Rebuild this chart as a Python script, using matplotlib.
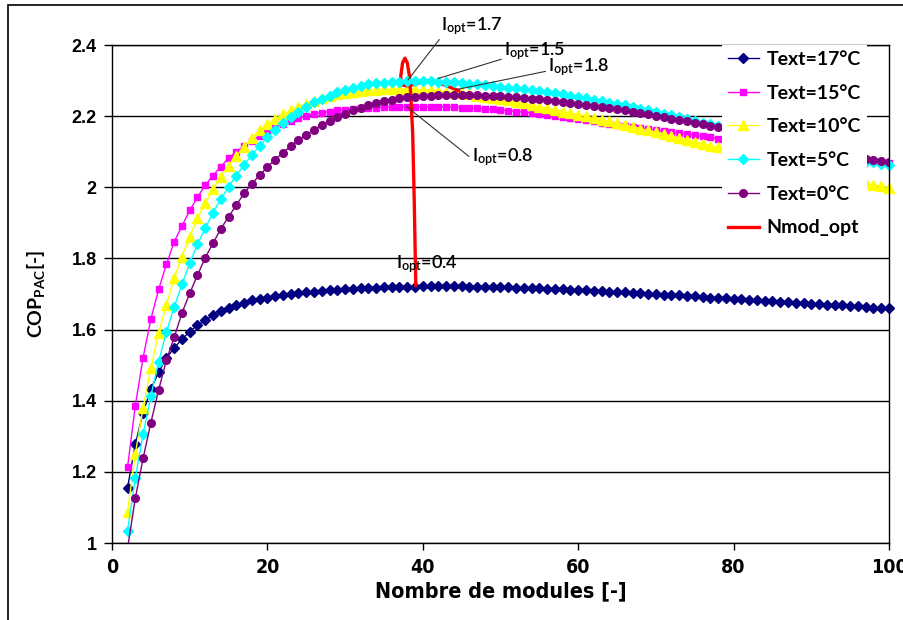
import matplotlib.pyplot as plt
from matplotlib.patches import Rectangle
from matplotlib.ticker import FormatStrFormatter

plt.rcParams['mathtext.fontset'] = 'custom'
plt.rcParams['mathtext.rm'] = 'Lato'
plt.rcParams['mathtext.bf'] = 'Lato:bold'
plt.rcParams['mathtext.it'] = 'Lato:italic'
plt.rcParams['mathtext.sf'] = 'Lato:semibold'

# number of modules (x axis)
n_modules = list(range(2, 101))

# COP_PAC, one value per module count (2..100)
cop_17 = [1.155, 1.278, 1.366, 1.433, 1.480, 1.520, 1.548, 1.573, 1.594, 1.613,
          1.626, 1.641, 1.652, 1.662, 1.670, 1.676, 1.682, 1.686, 1.690, 1.694,
          1.697, 1.700, 1.703, 1.705, 1.707, 1.709, 1.711, 1.712, 1.714, 1.715,
          1.716, 1.717, 1.718, 1.719, 1.720, 1.720, 1.721, 1.721, 1.722, 1.722,
          1.722, 1.722, 1.722, 1.722, 1.721, 1.721, 1.721, 1.720, 1.720, 1.719,
          1.718, 1.718, 1.717, 1.716, 1.715, 1.714, 1.713, 1.712, 1.711, 1.710,
          1.709, 1.708, 1.707, 1.706, 1.705, 1.703, 1.702, 1.701, 1.700, 1.698,
          1.697, 1.696, 1.694, 1.693, 1.692, 1.690, 1.689, 1.688, 1.686, 1.685,
          1.684, 1.682, 1.681, 1.680, 1.678, 1.677, 1.676, 1.674, 1.673, 1.672,
          1.670, 1.669, 1.668, 1.666, 1.665, 1.664, 1.662, 1.661, 1.660]

cop_15 = [1.213, 1.386, 1.521, 1.629, 1.713, 1.783, 1.847, 1.891, 1.935, 1.972,
          2.006, 2.033, 2.058, 2.082, 2.100, 2.116, 2.131, 2.145, 2.157, 2.168,
          2.178, 2.187, 2.195, 2.201, 2.206, 2.210, 2.213, 2.216, 2.218, 2.220,
          2.222, 2.223, 2.224, 2.225, 2.226, 2.226, 2.227, 2.227, 2.227, 2.227,
          2.226, 2.226, 2.225, 2.224, 2.223, 2.222, 2.220, 2.219, 2.217, 2.215,
          2.213, 2.211, 2.209, 2.206, 2.203, 2.200, 2.197, 2.194, 2.191, 2.188,
          2.185, 2.182, 2.179, 2.176, 2.173, 2.170, 2.167, 2.164, 2.161, 2.158,
          2.155, 2.152, 2.149, 2.146, 2.143, 2.140, 2.137, 2.134, 2.131, 2.127,
          2.124, 2.121, 2.117, 2.114, 2.110, 2.107, 2.103, 2.100, 2.096, 2.093,
          2.089, 2.086, 2.083, 2.080, 2.078, 2.076, 2.074, 2.071, 2.068]

cop_10 = [1.088, 1.250, 1.380, 1.491, 1.591, 1.669, 1.744, 1.805, 1.861, 1.913,
          1.955, 1.994, 2.030, 2.060, 2.088, 2.114, 2.138, 2.160, 2.177, 2.192,
          2.205, 2.216, 2.226, 2.235, 2.243, 2.250, 2.256, 2.261, 2.265, 2.268,
          2.271, 2.273, 2.274, 2.275, 2.276, 2.276, 2.276, 2.275, 2.274, 2.273,
          2.271, 2.269, 2.267, 2.264, 2.261, 2.258, 2.255, 2.251, 2.248, 2.244,
          2.240, 2.236, 2.231, 2.227, 2.222, 2.218, 2.213, 2.209, 2.204, 2.200,
          2.195, 2.190, 2.185, 2.180, 2.175, 2.170, 2.165, 2.160, 2.155, 2.150,
          2.144, 2.139, 2.134, 2.128, 2.123, 2.117, 2.112, 2.107, 2.101, 2.096,
          2.090, 2.085, 2.079, 2.074, 2.068, 2.063, 2.057, 2.052, 2.046, 2.041,
          2.035, 2.030, 2.024, 2.019, 2.015, 2.011, 2.007, 2.003, 1.999]

cop_5 = [1.034, 1.182, 1.306, 1.413, 1.510, 1.592, 1.664, 1.727, 1.786, 1.840,
         1.885, 1.929, 1.966, 2.002, 2.033, 2.063, 2.091, 2.116, 2.140, 2.161,
         2.180, 2.197, 2.213, 2.227, 2.239, 2.249, 2.258, 2.267, 2.274, 2.280,
         2.285, 2.289, 2.292, 2.294, 2.296, 2.297, 2.298, 2.298, 2.298, 2.298,
         2.297, 2.296, 2.295, 2.293, 2.291, 2.289, 2.287, 2.285, 2.283, 2.280,
         2.278, 2.275, 2.273, 2.270, 2.267, 2.264, 2.261, 2.258, 2.254, 2.250,
         2.246, 2.242, 2.238, 2.234, 2.230, 2.225, 2.221, 2.216, 2.212, 2.207,
         2.202, 2.197, 2.192, 2.187, 2.182, 2.177, 2.172, 2.167, 2.162, 2.156,
         2.151, 2.145, 2.140, 2.134, 2.129, 2.123, 2.117, 2.112, 2.106, 2.100,
         2.095, 2.089, 2.083, 2.078, 2.074, 2.072, 2.070, 2.066, 2.062]

cop_0 = [0.985, 1.126, 1.238, 1.338, 1.430, 1.514, 1.578, 1.646, 1.702, 1.753,
         1.802, 1.843, 1.883, 1.917, 1.950, 1.983, 2.010, 2.034, 2.057, 2.078,
         2.097, 2.116, 2.133, 2.148, 2.162, 2.175, 2.187, 2.198, 2.207, 2.216,
         2.224, 2.231, 2.237, 2.242, 2.246, 2.250, 2.253, 2.255, 2.257, 2.258,
         2.259, 2.260, 2.260, 2.260, 2.260, 2.259, 2.258, 2.257, 2.256, 2.254,
         2.253, 2.251, 2.249, 2.247, 2.245, 2.243, 2.240, 2.238, 2.235, 2.232,
         2.229, 2.226, 2.223, 2.219, 2.216, 2.212, 2.208, 2.205, 2.201, 2.197,
         2.193, 2.189, 2.185, 2.181, 2.177, 2.173, 2.169, 2.165, 2.160, 2.156,
         2.151, 2.147, 2.142, 2.138, 2.133, 2.128, 2.123, 2.118, 2.113, 2.108,
         2.103, 2.098, 2.093, 2.088, 2.084, 2.080, 2.078, 2.075, 2.072]

# optimal number of modules curve (smoothed line as drawn)
nmod_x = [39.1, 38.9, 38.7, 38.5, 38.3, 38.0, 37.7, 37.4, 37.15, 37.3, 38.0, 39.0, 40.5, 42.5, 44.6]
nmod_y = [1.725, 1.96, 2.15, 2.24, 2.31, 2.35, 2.363, 2.35, 2.31, 2.288, 2.285, 2.29, 2.30, 2.29, 2.272]

y_ticks = [1, 1.2, 1.4, 1.6, 1.8, 2, 2.2, 2.4]
x_ticks = [0, 20, 40, 60, 80, 100]

narrow = dict(family=['Liberation Sans Narrow', 'DejaVu Sans'], stretch='condensed',
              fontweight='bold')

fig = plt.figure(figsize=(9.04, 6.2), dpi=100)
ax = fig.add_axes([112 / 904, 1 - 543 / 620, 777 / 904, 498 / 620])

h17, = ax.plot(n_modules, cop_17, color='#000080', marker='D', ms=5.5, lw=1,
               label='Text=17°C', zorder=2.1, clip_on=False)
h15, = ax.plot(n_modules, cop_15, color='#FF00FF', marker='s', ms=5, lw=1,
               label='Text=15°C', zorder=2.2, clip_on=False)
h10, = ax.plot(n_modules, cop_10, color='#FFFF00', marker='^', ms=7, lw=1,
               label='Text=10°C', zorder=2.3, clip_on=False)
hopt, = ax.plot(nmod_x, nmod_y, color='#FF0000', lw=2.4, label='Nmod_opt', zorder=2.35)
h5, = ax.plot(n_modules, cop_5, color='#00FFFF', marker='D', ms=5.5, lw=1,
              label='Text=5°C', zorder=2.4, clip_on=False)
h0, = ax.plot(n_modules, cop_0, color='#800080', marker='o', ms=5.5, lw=1,
              label='Text=0°C', zorder=2.5)

ax.set_xlim(0, 100)
ax.set_ylim(1, 2.4)
ax.set_xticks(x_ticks)
ax.set_yticks(y_ticks)
ax.yaxis.set_major_formatter(FormatStrFormatter('%g'))
ax.yaxis.grid(True, color='black', lw=1)
ax.set_axisbelow(True)
for s in ax.spines.values():
    s.set_color('black')
    s.set_linewidth(1)

ax.tick_params(axis='y', direction='out', length=6, width=1, pad=5)
ax.tick_params(axis='x', direction='out', length=5, width=1, pad=6)
for t in ax.get_yticklabels():
    t.set_fontfamily('Liberation Sans')
    t.set_fontweight('bold')
    t.set_fontsize(13)
for t in ax.get_xticklabels():
    t.set_fontfamily(narrow['family'])
    t.set_fontstretch('condensed')
    t.set_fontweight('bold')
    t.set_fontsize(14)

ax.set_xlabel('Nombre de modules [-]', fontsize=15.5, labelpad=3, **narrow)
ax.set_ylabel(r'COP$_{\mathbf{PAC}}$[-]', family='Lato', fontweight='bold', fontsize=14, labelpad=18)

# I_opt annotations
line_kw = dict(arrowstyle='-', color='#333333', lw=0.8, shrinkA=0, shrinkB=0)
ann = [
    ('1.7', (38.1, 2.302), (42.4, 2.442), 0.0),
    ('1.5', (42.0, 2.306), (50.45, 2.372), 0.15),
    ('1.8', (44.4, 2.275), (56.15, 2.325), 0.35),
    ('0.8', (37.9, 2.227), (46.3, 2.072), 0.45),
]
for val, xy, xyt, rp in ann:
    ax.annotate(r'I$_{\mathsf{opt}}$=' + val, xy=xy, xytext=xyt, ha='left', va='baseline',
                family='Lato', fontweight='semibold', fontsize=13, annotation_clip=False,
                arrowprops=dict(relpos=(0, rp), **line_kw))
ax.text(36.6, 1.773, r'I$_{\mathsf{opt}}$=0.4', ha='left', va='baseline', family='Lato',
        fontweight='semibold', fontsize=13)

leg = ax.legend([h17, h15, h10, h5, h0, hopt],
                ['Text=17°C', 'Text=15°C', 'Text=10°C', 'Text=5°C', 'Text=0°C', 'Nmod_opt'],
                loc='upper left', bbox_to_anchor=(0.785, 1.0), frameon=True,
                facecolor='white', edgecolor='none', framealpha=1, fancybox=False,
                borderpad=0.3, borderaxespad=0, handlelength=1.6, handletextpad=0.4,
                labelspacing=0.86, prop={'family': 'Lato', 'weight': 'bold', 'size': 14})

# chart outer border
fig.add_artist(Rectangle((8 / 904, -0.1), 1.2, 1 - 5 / 620 + 0.1, fill=False,
                         lw=1.2, edgecolor='black', transform=fig.transFigure))

fig.savefig('out.png', dpi=100)
